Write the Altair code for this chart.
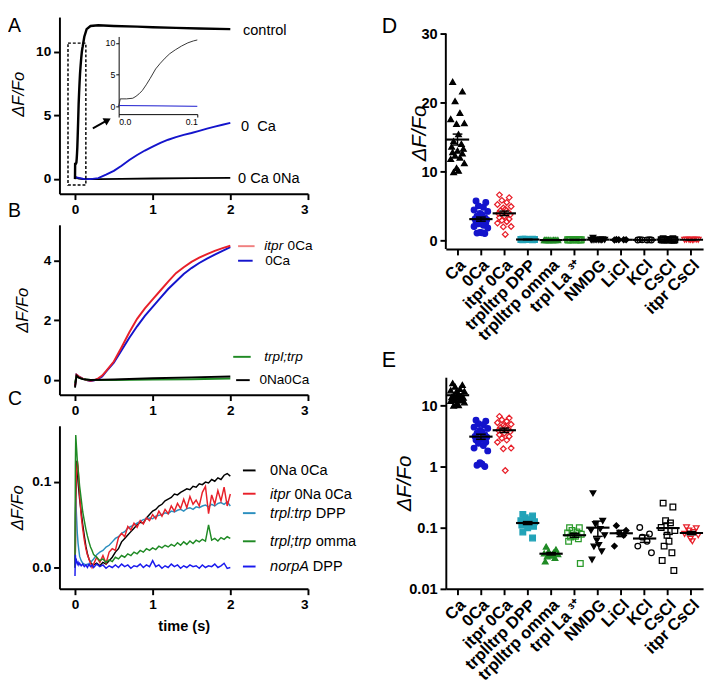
import altair as alt
import pandas as pd

FONT = "Liberation Sans"
BLACK = "#000000"
RED = "#e8202a"
BLUE = "#1414cc"
GREEN = "#1f8a24"
CYAN = "#2b8fbf"

# ---------------- Panel A data ----------------
a_control_t = [0.0, 0.002, 0.01, 0.018, 0.022, 0.026, 0.03, 0.035, 0.04, 0.047, 0.053, 0.059, 0.065,
               0.072, 0.08, 0.088, 0.095, 0.1, 0.12, 0.15, 0.2, 0.3, 0.5, 0.8, 1.0, 1.3, 1.6, 2.0]
a_control_v = [0.0, 1.2, 1.2, 1.3, 1.6, 2.0, 2.5, 3.4, 4.4, 5.9, 6.8, 7.6, 8.3,
               8.9, 9.5, 10.0, 10.3, 10.45, 11.2, 11.8, 12.05, 12.1, 12.05, 12.0, 11.95, 11.9, 11.85, 11.8]
a_0ca_t = [0.0, 0.05, 0.1, 0.2, 0.3, 0.4, 0.5, 0.6, 0.7, 0.8, 0.9, 1.0, 1.1, 1.2, 1.3, 1.4, 1.5,
           1.6, 1.7, 1.8, 1.9, 2.0]
a_0ca_v = [0.15, 0.1, 0.03, 0.0, 0.08, 0.35, 0.65, 1.05, 1.5, 1.9, 2.25, 2.55, 2.85, 3.1, 3.3, 3.48,
           3.63, 3.8, 3.97, 4.13, 4.28, 4.43]
a_0ca0na_t = [0.0, 0.05, 0.1, 0.3, 0.6, 1.0, 1.5, 2.0]
a_0ca0na_v = [0.15, 0.05, 0.0, 0.0, 0.02, 0.05, 0.08, 0.1]
a_box_x = [-0.09]
a_box_x2 = [0.14]
a_box_y = [-0.46]
a_box_y2 = [10.7]
a_arrow_x = [0.23, 0.42]
a_arrow_y = [4.0, 4.64]

# ---------------- Panel B data ----------------
b_t = [0.0, 0.02, 0.05, 0.1, 0.15, 0.2, 0.25, 0.3, 0.35, 0.4, 0.5, 0.6, 0.7, 0.8, 0.9, 1.0, 1.1,
       1.2, 1.3, 1.4, 1.5, 1.6, 1.7, 1.8, 1.9, 2.0]
b_itpr = [-0.2, 0.18, 0.12, 0.05, 0.0, -0.02, 0.0, 0.06, 0.15, 0.3, 0.62, 1.1, 1.6, 2.05, 2.4, 2.7,
          3.0, 3.3, 3.58, 3.78, 3.96, 4.1, 4.22, 4.33, 4.42, 4.5]
b_0ca = [-0.2, 0.18, 0.12, 0.05, 0.0, -0.03, -0.01, 0.04, 0.12, 0.28, 0.58, 1.0, 1.42, 1.8, 2.15, 2.45,
         2.75, 3.05, 3.3, 3.55, 3.75, 3.92, 4.07, 4.2, 4.33, 4.45]
b_trp_t = [0.0, 0.02, 0.05, 0.1, 0.2, 0.5, 1.0, 1.5, 2.0]
b_trp_v = [-0.1, 0.12, 0.08, 0.03, 0.0, 0.0, 0.02, 0.03, 0.05]
b_0na_t = [0.0, 0.02, 0.05, 0.1, 0.2, 0.5, 1.0, 1.5, 2.0]
b_0na_v = [-0.25, 0.15, 0.08, 0.03, 0.0, 0.02, 0.06, 0.09, 0.12]

# ---------------- Panel C data ----------------
c_t = [0.0, 0.005, 0.01, 0.02, 0.03, 0.04, 0.05, 0.06, 0.08, 0.1, 0.12, 0.14, 0.16, 0.18, 0.2, 0.22,
       0.24, 0.28, 0.32, 0.36, 0.40, 0.44, 0.48, 0.52, 0.56, 0.60, 0.64, 0.68, 0.72, 0.76, 0.80,
       0.84, 0.88, 0.92, 0.96, 1.00, 1.04, 1.08, 1.12, 1.16, 1.20, 1.24, 1.28, 1.32, 1.36, 1.40,
       1.44, 1.48, 1.52, 1.56, 1.60, 1.64, 1.68, 1.72, 1.76, 1.80, 1.84, 1.88, 1.92, 1.96, 2.00]
c_0na = [0.0, 0.02, 0.08, 0.125, 0.115, 0.1, 0.09, 0.08, 0.065, 0.05, 0.037, 0.025, 0.016, 0.01, 0.006, 0.004,
         0.003, 0.005, 0.002, 0.006, 0.004, 0.008, 0.012, 0.018, 0.022, 0.03, 0.034, 0.038, 0.042, 0.046, 0.05,
         0.053, 0.052, 0.058, 0.062, 0.066, 0.068, 0.072, 0.074, 0.078, 0.08, 0.082, 0.086, 0.085, 0.088, 0.09,
         0.092, 0.091, 0.095, 0.094, 0.098, 0.097, 0.1, 0.099, 0.103, 0.101, 0.105, 0.103, 0.108, 0.11, 0.107]
c_itpr = [0.0, 0.03, 0.09, 0.11, 0.125, 0.118, 0.1, 0.085, 0.06, 0.045, 0.032, 0.022, 0.015, 0.01, 0.005, 0.0,
          0.004, 0.012, 0.006, 0.014, 0.005, 0.018, 0.022, 0.02, 0.035, 0.04, 0.036, 0.048, 0.044, 0.052, 0.047,
          0.055, 0.051, 0.058, 0.055, 0.062, 0.057, 0.066, 0.06, 0.068, 0.063, 0.072, 0.066, 0.075, 0.069, 0.08,
          0.07, 0.083, 0.074, 0.079, 0.072, 0.088, 0.095, 0.063, 0.085, 0.074, 0.09, 0.078, 0.094, 0.072, 0.086]
c_dpp = [0.0, 0.06, 0.08, 0.06, 0.04, 0.028, 0.02, 0.013, 0.008, 0.005, 0.004, 0.003, 0.004, 0.003, 0.006, 0.008,
         0.01, 0.015, 0.018, 0.02, 0.024, 0.026, 0.03, 0.034, 0.036, 0.04, 0.042, 0.046, 0.048, 0.05, 0.052,
         0.054, 0.056, 0.057, 0.058, 0.057, 0.06, 0.061, 0.062, 0.064, 0.063, 0.066, 0.065, 0.067, 0.068, 0.066,
         0.069, 0.07, 0.068, 0.071, 0.07, 0.072, 0.073, 0.071, 0.074, 0.072, 0.075, 0.076, 0.074, 0.077, 0.072]
c_omma = [0.0, 0.12, 0.155, 0.14, 0.125, 0.115, 0.105, 0.095, 0.08, 0.065, 0.055, 0.045, 0.037, 0.03, 0.024, 0.02,
          0.015, 0.012, 0.008, 0.01, 0.006, 0.009, 0.007, 0.012, 0.01, 0.014, 0.012, 0.016, 0.014, 0.018, 0.016,
          0.02, 0.018, 0.022, 0.02, 0.023, 0.021, 0.025, 0.023, 0.026, 0.024, 0.027, 0.025, 0.029, 0.026, 0.03,
          0.027, 0.031, 0.028, 0.032, 0.03, 0.033, 0.031, 0.05, 0.032, 0.034, 0.031, 0.035, 0.033, 0.036, 0.034]
c_norpa = [-0.01, 0.015, 0.005, 0.008, 0.004, 0.006, 0.003, 0.005, 0.002, 0.004, 0.001, 0.003, 0.0, 0.004, 0.001, 0.003,
           0.0, 0.004, 0.001, 0.003, -0.001, 0.002, 0.0, 0.003, 0.0, 0.004, 0.001, 0.003, -0.001, 0.002, 0.001,
           0.004, 0.0, 0.003, 0.001, 0.008, 0.001, 0.003, -0.001, 0.002, 0.0, 0.004, 0.001, 0.003, -0.001, 0.002,
           0.0, 0.003, 0.001, 0.002, -0.001, 0.003, 0.0, 0.002, 0.001, 0.004, 0.0, 0.002, 0.005, -0.001, 0.0]

# ---------------- Panels D/E data ----------------
groups = ["Ca", "0Ca", "itpr 0Ca", "trplltrp DPP", "trplltrp omma", "trpl La \u00b3\u207a",
          "NMDG", "LiCl", "KCl", "CsCl", "itpr CsCl"]
v_ca = [23.0, 21.6, 20.2, 18.5, 17.6, 17.0, 16.9, 15.4, 14.4, 14.0, 13.6, 13.3, 13.0, 12.8, 12.6, 12.3,
        12.0, 11.8, 11.2, 10.5, 10.1, 9.9]
v_0ca = [5.7, 5.5, 5.0, 4.8, 4.4, 4.2, 3.9, 3.7, 3.5, 3.3, 3.1, 3.0, 2.8, 2.7, 2.5, 2.4, 2.2, 2.0, 1.8,
         1.15, 1.1, 1.05, 1.0]
v_itpr0ca = [6.6, 6.2, 5.8, 5.5, 5.2, 4.9, 4.7, 4.5, 4.3, 4.1, 3.9, 3.7, 3.5, 3.3, 3.1, 2.9, 2.7, 2.5,
             2.0, 1.95, 0.86]
v_dpp = [0.165, 0.155, 0.145, 0.135, 0.13, 0.125, 0.12, 0.118, 0.115, 0.112, 0.11, 0.105, 0.1, 0.085, 0.068]
v_omma = [0.049, 0.044, 0.041, 0.039, 0.038, 0.037, 0.036, 0.035, 0.034, 0.032, 0.028]
v_la = [0.1, 0.1, 0.09, 0.085, 0.082, 0.078, 0.075, 0.072, 0.07, 0.066, 0.06, 0.026]
v_nmdg = [0.364, 0.129, 0.114, 0.095, 0.09, 0.075, 0.062, 0.052, 0.049, 0.041, 0.03]
v_licl = [0.108, 0.09, 0.082, 0.075, 0.05]
v_kcl = [0.101, 0.079, 0.07, 0.06, 0.05, 0.039]
v_cscl = [0.252, 0.218, 0.13, 0.12, 0.101, 0.09, 0.075, 0.06, 0.05, 0.039, 0.029, 0.02]
v_itprcscl = [0.101, 0.098, 0.09, 0.085, 0.079, 0.075, 0.066, 0.06]
group_values = [v_ca, v_0ca, v_itpr0ca, v_dpp, v_omma, v_la, v_nmdg, v_licl, v_kcl, v_cscl, v_itprcscl]
g_shapes = ["triangle-up", "circle", "diamond", "square", "triangle-up", "square",
            "triangle-down", "diamond", "circle", "square", "triangle-down"]
g_stroke = [BLACK, BLUE, RED, "#22a3b8", GREEN, "#2a9a2a", BLACK, BLACK, BLACK, BLACK, RED]
g_fill = [BLACK, BLUE, "transparent", "#22a3b8", GREEN, "transparent", BLACK, BLACK,
          "transparent", "transparent", "transparent"]

ANN = pd.DataFrame({"k": [0]})


def ax(values=None, fmt=None, title=None, size=14, **kw):
    d = dict(grid=False, domainColor="black", domainWidth=2, tickColor="black", tickWidth=2,
             tickSize=6, labelColor="black", labelFont=FONT, labelFontSize=size,
             labelFontWeight="bold", labelPadding=3, title=title, titleFont=FONT,
             titleFontSize=17, titleFontStyle="italic", titleFontWeight="normal",
             titleColor="black")
    if values is not None:
        d["values"] = values
    if fmt is not None:
        d["format"] = fmt
    d.update(kw)
    return alt.Axis(**d)


def txt(s, x, y, size=15, italic=False, bold=False, align="left", baseline="middle"):
    return alt.Chart(ANN).mark_text(
        text=s, font=FONT, fontSize=size, fontStyle="italic" if italic else "normal",
        fontWeight="bold" if bold else "normal", align=align, baseline=baseline, color="black"
    ).encode(x=alt.value(x), y=alt.value(y))


def seg(x1, x2, y, color, w=2):
    return alt.Chart(ANN).mark_rule(color=color, strokeWidth=w).encode(
        x=alt.value(x1), x2=alt.value(x2), y=alt.value(y))


def line(t, v, color, xs, ys, xax, yax, w=2.0):
    df = pd.DataFrame({"t": t, "v": v})
    return alt.Chart(df).mark_line(color=color, strokeWidth=w).encode(
        x=alt.X("t:Q", scale=xs, axis=xax), y=alt.Y("v:Q", scale=ys, axis=yax))


X_LEFT = alt.Scale(domain=[-0.2, 3.0], nice=False, zero=False)
XT = [0, 1, 2, 3]

# ---------------- Panel A ----------------
yA = alt.Scale(domain=[-1.15, 12.75], nice=False, zero=False)
xaxA = ax(XT, "d")
yaxA = ax([0, 5, 10], "d", title="\u0394F/Fo", titleX=-37, titleY=79, titleBaseline="alphabetic")
box = alt.Chart(pd.DataFrame({"x": a_box_x, "x2": a_box_x2, "y": a_box_y, "y2": a_box_y2})).mark_rect(
    fill=None, stroke="black", strokeWidth=1.5, strokeDash=[3, 2]).encode(
    x=alt.X("x:Q", scale=X_LEFT, axis=xaxA), x2="x2:Q", y=alt.Y("y:Q", scale=yA, axis=yaxA), y2="y2:Q")
arrow_df = pd.DataFrame({"t": a_arrow_x, "v": a_arrow_y})
arrow_line = alt.Chart(arrow_df).mark_line(color="black", strokeWidth=2).encode(
    x=alt.X("t:Q", scale=X_LEFT, axis=xaxA), y=alt.Y("v:Q", scale=yA, axis=yaxA))
arrow_head = alt.Chart(arrow_df).transform_filter("datum.t > 0.3").mark_point(
    shape="triangle-up", filled=True, color="black", size=70, angle=61, opacity=1).encode(
    x=alt.X("t:Q", scale=X_LEFT, axis=xaxA), y=alt.Y("v:Q", scale=yA, axis=yaxA))
main_A = alt.layer(
    line(a_0ca0na_t, a_0ca0na_v, BLACK, X_LEFT, yA, xaxA, yaxA),
    line(a_0ca_t, a_0ca_v, BLUE, X_LEFT, yA, xaxA, yaxA),
    line(a_control_t, a_control_v, BLACK, X_LEFT, yA, xaxA, yaxA, w=2.5),
    box, arrow_line, arrow_head,
    txt("control", 189, 13), txt("0\u00a0\u00a0Ca", 187, 112), txt("0 Ca 0Na", 184, 166),
    txt("A", -53, -1, size=20, baseline="top"),
)
xi = alt.Scale(domain=[0, 0.1], range=[61, 142], nice=False, zero=False)
yi = alt.Scale(domain=[-1.2, 11], range=[100, 20], nice=False, zero=False)
xaxI = alt.Axis(values=[0, 0.1], format=".1f", orient="bottom", offset=-82, grid=False, title=None,
                domainColor="black", domainWidth=1, tickColor="black", tickSize=3, labelFont=FONT,
                labelFontSize=9, labelColor="black", labelPadding=1)
yaxI = alt.Axis(values=[0, 5, 10], format="d", orient="left", offset=-61, grid=False, title=None,
                domainColor="black", domainWidth=1, tickColor="black", tickSize=3, labelFont=FONT,
                labelFontSize=9, labelColor="black", labelPadding=1)
inset_A = alt.layer(
    line(a_0ca_t, a_0ca_v, BLUE, xi, yi, xaxI, yaxI, w=1).transform_filter("datum.t <= 0.1"),
    line(a_control_t, a_control_v, "#333333", xi, yi, xaxI, yaxI, w=1).transform_filter("datum.t <= 0.1"),
)
A = alt.layer(main_A, inset_A).resolve_scale(x="independent", y="independent").properties(
    width=256, height=182)

# ---------------- Panel B ----------------
yB = alt.Scale(domain=[-0.49, 5.2], nice=False, zero=False)
xaxB = ax(XT, "d")
yaxB = ax([0, 2, 4], "d", title="\u0394F/Fo", titleX=-33, titleBaseline="alphabetic")
B = alt.layer(
    line(b_t, b_0ca, BLUE, X_LEFT, yB, xaxB, yaxB),
    line(b_t, b_itpr, RED, X_LEFT, yB, xaxB, yaxB),
    line(b_trp_t, b_trp_v, GREEN, X_LEFT, yB, xaxB, yaxB),
    line(b_0na_t, b_0na_v, BLACK, X_LEFT, yB, xaxB, yaxB),
    seg(184, 201, 22, "#f08080"), txt("itpr", 211, 22, size=14, italic=True), txt("0Ca", 235, 22, size=14),
    seg(184, 199, 37, BLUE), txt("0Ca", 212, 37, size=14),
    seg(179, 197, 136, GREEN), txt("trpl;trp", 211, 136, size=14, italic=True),
    seg(182, 196, 160, BLACK), txt("0Na0Ca", 206, 160, size=14),
    txt("B", -53, -24, size=20, baseline="top"),
).properties(width=256, height=175)

# ---------------- Panel C ----------------
yC = alt.Scale(domain=[-0.025, 0.1659], nice=False, zero=False)
xaxC = ax(XT, "d", title="time (s)", titleFontStyle="normal", titleFontWeight="bold",
          titleFontSize=15, titlePadding=8)
yaxC = ax([0, 0.1], ".1f", title="\u0394F/Fo", titleX=-38, titleBaseline="alphabetic")
C = alt.layer(
    line(c_t, c_0na, BLACK, X_LEFT, yC, xaxC, yaxC, w=1.5),
    line(c_t, c_dpp, CYAN, X_LEFT, yC, xaxC, yaxC, w=1.5),
    line(c_t, c_itpr, RED, X_LEFT, yC, xaxC, yaxC, w=1.5),
    line(c_t, c_omma, GREEN, X_LEFT, yC, xaxC, yaxC, w=1.5),
    line(c_t, c_norpa, "#1a1aee", X_LEFT, yC, xaxC, yaxC, w=1.5),
    seg(189, 202, 46, BLACK), txt("0Na 0Ca", 217, 46),
    seg(189, 202, 70, RED), txt("itpr", 217, 70, italic=True), txt("0Na 0Ca", 242, 70),
    seg(189, 202, 90, CYAN), txt("trpl:trp", 217, 90, italic=True), txt("DPP", 264, 90),
    seg(189, 202, 119, GREEN), txt("trpl;trp", 217, 119, italic=True), txt("omma", 264, 119),
    seg(189, 202, 145, "#1a1aee"), txt("norpA", 217, 145, italic=True), txt("DPP", 261, 145),
    txt("C", -53, -37, size=20, baseline="top"),
).properties(width=256, height=168)

# ---------------- Panels D / E ----------------
rows = []
for g, vals in zip(groups, group_values):
    for v in vals:
        rows.append({"group": g, "value": v})
scat_df = pd.DataFrame(rows)


def scatter_panel(yscale, yaxis, height, letter, letter_y, extra=None):
    xax = ax(None, None, title=None, size=17, labelAngle=-45, labelPadding=2)
    X = alt.X("group:N", sort=groups, scale=alt.Scale(domain=groups, paddingInner=0, paddingOuter=0),
              axis=xax)
    base = alt.Chart(scat_df)
    pts = base.transform_window(
        rank="row_number()", groupby=["group"], sort=[alt.SortField("value", order="descending")]
    ).transform_calculate(
        jit="[0,-5,5,-2.5,2.5,-7,7,-1,1,-4,4,-6,6][datum.rank % 13]"
    ).mark_point(filled=True, size=34, strokeWidth=1.3, opacity=1).encode(
        x=X,
        xOffset=alt.XOffset("jit:Q", scale=alt.Scale(domain=[-12, 12], nice=False, zero=False)),
        y=alt.Y("value:Q", scale=yscale, axis=yaxis),
        shape=alt.Shape("group:N", scale=alt.Scale(domain=groups, range=g_shapes), legend=None),
        stroke=alt.Stroke("group:N", scale=alt.Scale(domain=groups, range=g_stroke), legend=None),
        fill=alt.Fill("group:N", scale=alt.Scale(domain=groups, range=g_fill), legend=None),
    )
    stats = base.transform_aggregate(
        m="mean(value)", se="stderr(value)", groupby=["group"]
    ).transform_calculate(lo="datum.m - datum.se", hi="datum.m + datum.se")
    rule = stats.mark_rule(color="black", strokeWidth=1.5).encode(
        x=X, y=alt.Y("lo:Q", scale=yscale, axis=yaxis), y2="hi:Q")
    cap_lo = stats.mark_tick(color="black", thickness=1.5, size=10, opacity=1).encode(
        x=X, y=alt.Y("lo:Q", scale=yscale, axis=yaxis))
    cap_hi = stats.mark_tick(color="black", thickness=1.5, size=10, opacity=1).encode(
        x=X, y=alt.Y("hi:Q", scale=yscale, axis=yaxis))
    mean = stats.mark_tick(color="black", thickness=2.2, size=24, opacity=1).encode(
        x=X, y=alt.Y("m:Q", scale=yscale, axis=yaxis))
    layers = [pts, rule, cap_lo, cap_hi, mean, txt(letter, -66, letter_y, size=22, baseline="top")]
    if extra is not None:
        layers.append(extra)
    return alt.layer(*layers).properties(width=265, height=height)


yD = alt.Scale(domain=[-1.27, 32.4], nice=False, zero=False)
yaxD = ax([0, 10, 20, 30], "d", title="\u0394F/Fo", size=15, titleFontSize=21, titleX=-21,
          titleBaseline="alphabetic", domain=False)
d_axis_line = alt.Chart(ANN).mark_rule(color="black", strokeWidth=2).encode(
    x=alt.value(0), y=alt.datum(30, scale=yD), y2=alt.value(239))
D = scatter_panel(yD, yaxD, 239, "D", -1, extra=d_axis_line)

yE = alt.Scale(type="log", domain=[0.01, 28.8], nice=False)
yaxE = ax([0.01, 0.1, 1, 10], "~g", title="\u0394F/Fo", size=15, titleFontSize=21, titleX=-36,
          titleBaseline="alphabetic")
E = scatter_panel(yE, yaxE, 218, "E", -28)

left = alt.vconcat(A, B, C, spacing=32, bounds="flush")
right = alt.vconcat(D, E, spacing=132, bounds="flush")
# with flush bounds the nested columns do not report their full width, so the
# spacing carries the left plot width plus the gap between the two columns
chart = alt.hconcat(left, right, spacing=398, bounds="flush").properties(
    padding={"left": 0, "top": -3, "right": 2, "bottom": 2}, background="white"
).configure_view(stroke=None)

chart.save("out.html", embed_options={"renderer": "svg", "actions": False})
